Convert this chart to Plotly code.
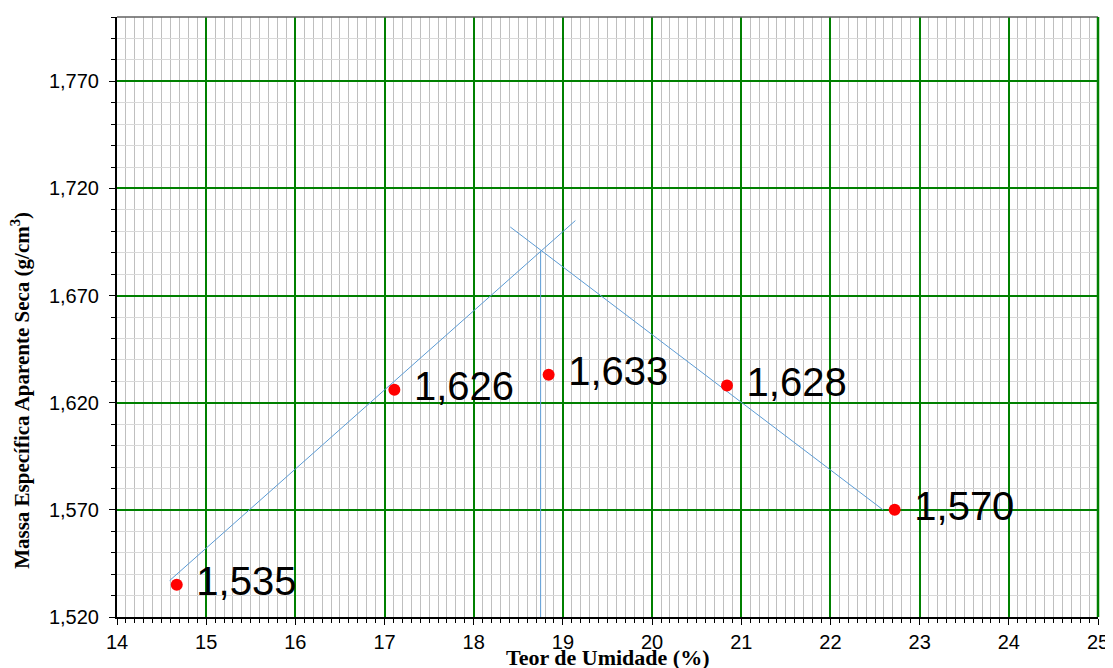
import plotly.graph_objects as go

# dados do ensaio de compactação
umidade = [14.67, 17.11, 18.84, 20.84, 22.72]
massa_especifica = [1.535, 1.626, 1.633, 1.628, 1.570]

# retas traçadas à mão (ramo seco, ramo úmido e umidade ótima)
ramo_seco_x = [14.59, 19.14]
ramo_seco_y = [1.537, 1.705]
ramo_umido_x = [18.41, 22.59]
ramo_umido_y = [1.702, 1.570]
otima_x = [18.75, 18.75]
otima_y = [1.691, 1.520]

titulo_x = '<b>Teor de Umidade (%)</b>'
titulo_y = '<b>Massa Específica Aparente Seca (g/cm<sup>3</sup>)</b>'

AZUL = '#5b9bd5'
VERDE = '#008000'
FONTE_SERIF = 'Liberation Serif, Times New Roman'

fig = go.Figure()

for xs, ys in [(ramo_seco_x, ramo_seco_y), (ramo_umido_x, ramo_umido_y), (otima_x, otima_y)]:
    fig.add_trace(go.Scatter(
        x=xs, y=ys, mode='lines',
        line=dict(color=AZUL, width=1),
        hoverinfo='skip', showlegend=False
    ))

fig.add_trace(go.Scatter(
    x=umidade,
    y=massa_especifica,
    mode='markers+text',
    marker=dict(size=12, color='#ff0000'),
    texttemplate=' %{y:.3f}',
    textposition='middle right',
    textfont=dict(family='Liberation Sans, Arial', size=40, color='black'),
    showlegend=False
))

# a página desloca o gráfico ~8px (margem do body), compensado aqui
fig.update_layout(
    width=1113, height=668,
    margin=dict(l=109, r=23, t=9, b=59),
    plot_bgcolor='white',
    paper_bgcolor='white',
    separators=',.',
    font=dict(family='Liberation Sans, Arial', size=20, color='black'),
)

fig.update_xaxes(
    range=[14, 25],
    dtick=1,
    showgrid=True, gridcolor=VERDE, gridwidth=2,
    minor=dict(dtick=0.1, showgrid=True, gridcolor='#bfbfbf', gridwidth=1,
               ticks='outside', ticklen=4, tickcolor='black'),
    ticks='outside', ticklen=6, tickcolor='black',
    showline=True, linecolor='black', linewidth=2,
    zeroline=False,
    automargin=False,
)

fig.update_yaxes(
    range=[1.52, 1.80],
    tick0=1.52, dtick=0.05,
    tickformat='.3f',
    ticklabelstandoff=6,
    showgrid=True, gridcolor=VERDE, gridwidth=2,
    minor=dict(dtick=0.01, showgrid=True, gridcolor='#d9d9d9', gridwidth=1,
               ticks='outside', ticklen=4, tickcolor='black'),
    ticks='outside', ticklen=6, tickcolor='black',
    showline=True, linecolor='black', linewidth=2,
    zeroline=False,
    automargin=False,
)

# títulos dos eixos como anotações (posição fina)
fig.add_annotation(text=titulo_x, xref='paper', yref='paper', x=0.5, y=0,
                   xanchor='center', yanchor='top', yshift=-26, showarrow=False,
                   font=dict(family=FONTE_SERIF, size=22, color='black'))
fig.add_annotation(text=titulo_y, xref='paper', yref='paper', x=0, y=0.377,
                   xanchor='center', yanchor='middle', xshift=-96, textangle=-90,
                   showarrow=False,
                   font=dict(family=FONTE_SERIF, size=21, color='black'))

# borda superior cinza e linha verde à direita
fig.add_shape(type='line', xref='paper', yref='paper', x0=0, x1=1, y0=1, y1=1,
              line=dict(color='#606060', width=1.5))
fig.add_shape(type='line', xref='paper', yref='paper', x0=1, x1=1, y0=0, y1=1,
              line=dict(color=VERDE, width=2.5))

fig.write_html('out.html')
